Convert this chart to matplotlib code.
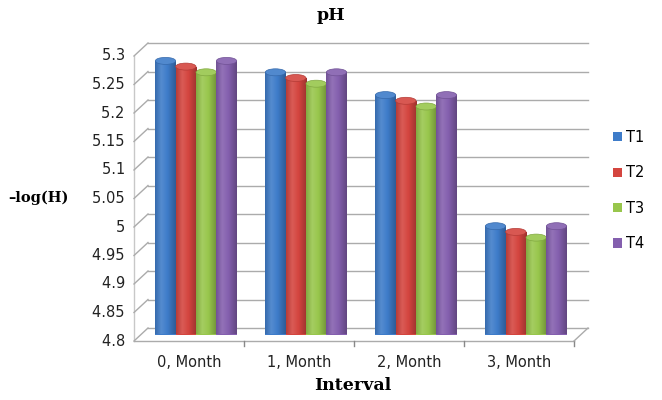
import numpy as np
import matplotlib
matplotlib.use('Agg')
import matplotlib.pyplot as plt
import matplotlib.transforms as mtransforms
from matplotlib.colors import LinearSegmentedColormap, to_rgb
from matplotlib.patches import Ellipse, Patch

# data
intervals = ['0, Month', '1, Month', '2, Month', '3, Month']
series = ['T1', 'T2', 'T3', 'T4']
t1 = [5.28, 5.26, 5.22, 4.99]
t2 = [5.27, 5.25, 5.21, 4.98]
t3 = [5.26, 5.24, 5.20, 4.97]
t4 = [5.28, 5.26, 5.22, 4.99]
yticks = [4.8, 4.85, 4.9, 4.95, 5.0, 5.05, 5.1, 5.15, 5.2, 5.25, 5.3]
ytick_labels = ['4.8', '4.85', '4.9', '4.95', '5', '5.05', '5.1', '5.15', '5.2', '5.25', '5.3']

colors = ['#3e7cc9', '#d4453f', '#98c64c', '#845fae']
grid_col = '#ababab'
sans = 'DejaVu Sans'
serif = 'DejaVu Serif'


def shade(c, f):
    r = np.array(to_rgb(c))
    if f >= 1:
        return tuple(r + (1 - r) * (f - 1))
    return tuple(r * f)


fig = plt.figure(figsize=(6.62, 4.0), dpi=100, facecolor='white')
# back wall of the 3d box
ax = fig.add_axes([148 / 662, 72 / 400, 440 / 662, 285 / 400])
ax.set_xlim(-0.5, 3.5)
ax.set_ylim(4.8, 5.3)
ax.axis('off')

front = ax.transData + mtransforms.ScaledTranslation(-0.14, -0.13, fig.dpi_scale_trans)
mid = ax.transData + mtransforms.ScaledTranslation(-0.07, -0.065, fig.dpi_scale_trans)

# gridlines on back wall + side wall diagonals + front tick labels
for v, lab in zip(yticks, ytick_labels):
    ax.plot([-0.5, 3.5], [v, v], color=grid_col, lw=1.0, zorder=1, clip_on=False)
    xb, yb = ax.transData.transform((-0.5, v))
    xf, yf = front.transform((-0.5, v))
    fig.add_artist(plt.Line2D([xf / 662, xb / 662], [yf / 400, yb / 400],
                              color=grid_col, lw=1.0, transform=fig.transFigure))
    ax.text(-0.5, v, lab + '  ', ha='right', va='center', fontsize=10.5,
            family=sans, color='#222222', transform=front, clip_on=False)

# front axes lines
ax.plot([-0.5, -0.5], [4.8, 5.3], color='#c8c8c8', lw=1, transform=front, clip_on=False)
ax.plot([-0.5, 3.5], [4.8, 4.8], color=grid_col, lw=1.0, transform=front, clip_on=False)
xb, yb = ax.transData.transform((3.5, 4.8))
xf, yf = front.transform((3.5, 4.8))
fig.add_artist(plt.Line2D([xf / 662, xb / 662], [yf / 400, yb / 400],
                          color=grid_col, lw=1.0, transform=fig.transFigure))
for b in [0.5, 1.5, 2.5, 3.5]:
    ax.plot([b, b], [4.8, 4.8 - 0.008], color='#888888', lw=1, transform=front, clip_on=False)
for i, lab in enumerate(intervals):
    ax.text(i, 4.8 - 0.038, lab, ha='center', va='center', fontsize=10.5,
            family=sans, color='#222222', transform=front, clip_on=False)

# cylinders
w = 0.185
cap_h = 7 * 0.5 / 285
data = [t1, t2, t3, t4]
grad = np.linspace(0, 1, 64).reshape(1, -1)
for k, (vals, c) in enumerate(zip(data, colors)):
    cmap = LinearSegmentedColormap.from_list(
        'cyl%d' % k,
        [(0, shade(c, 0.86)), (0.3, shade(c, 1.12)), (0.6, shade(c, 1.0)),
         (1, shade(c, 0.74))])
    xs = np.arange(len(intervals)) + (k - 1.5) * w
    bars = ax.bar(xs, np.array(vals) - 4.8, width=w, bottom=4.8, color=c,
                  transform=mid, zorder=3 + k, clip_on=False, lw=0)
    for x, v, bar in zip(xs, vals, bars):
        bot = Ellipse((x, 4.8), w, cap_h, transform=mid, facecolor=shade(c, 0.8),
                      lw=0, zorder=2.9 + k)
        ax.add_patch(bot)
        im = ax.imshow(grad, cmap=cmap, aspect='auto', interpolation='bilinear',
                       extent=(x - w / 2, x + w / 2, 4.8, v), zorder=3 + k)
        im.set_transform(mid)
        im.set_clip_path(bar)
        top = Ellipse((x, v), w, cap_h, transform=mid, facecolor=shade(c, 1.1),
                      edgecolor=shade(c, 0.85), lw=0.5, zorder=3.1 + k, clip_on=False)
        ax.add_patch(top)
ax.set_xlim(-0.5, 3.5)
ax.set_ylim(4.8, 5.3)

# titles
fig.text(331 / 662, 1 - 15 / 400, 'pH', ha='center', va='center', fontsize=12.5,
         fontweight='bold', family=serif)
fig.text(353 / 662, 1 - 386 / 400, 'Interval', ha='center', va='center', fontsize=12.5,
         fontweight='bold', family=serif)
fig.text(38 / 662, 1 - 198 / 400, '\u2013log(H)', ha='center', va='center', fontsize=10.5,
         fontweight='bold', family=serif)

# legend
handles = [Patch(facecolor=c, edgecolor='none') for c in colors]
fig.legend(handles, series, loc='upper left', bbox_to_anchor=(613 / 662, 1 - 130 / 400),
           frameon=False, handlelength=0.6, handleheight=0.6,
           handletextpad=0.3, labelspacing=1.4, borderpad=0, borderaxespad=0,
           prop={'family': sans, 'size': 10.5})

plt.savefig('out.png', dpi=100, facecolor='white')
